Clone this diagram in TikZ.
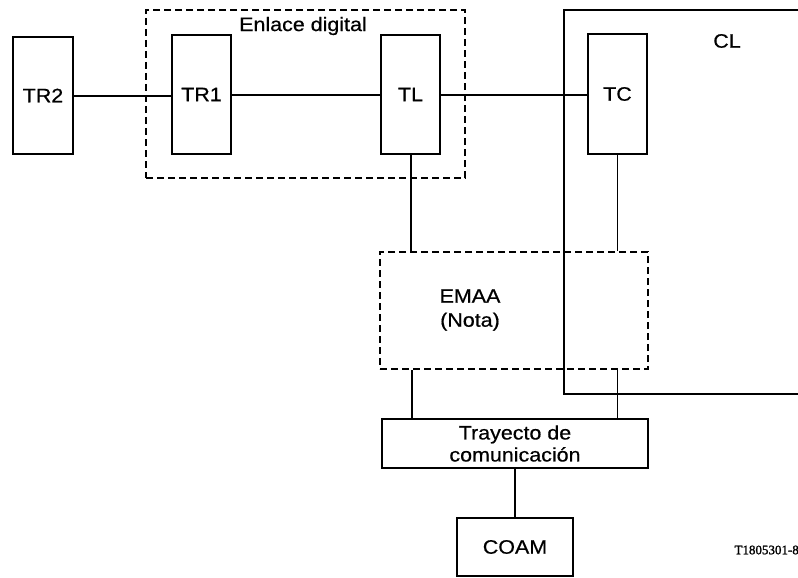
\documentclass[tikz,border=0pt]{standalone}
\usepackage{fontspec}
\setmainfont{Liberation Sans}[FakeStretch=1.1,FakeBold=0.6]
\newfontfamily\serifnote{Liberation Serif}[FakeBold=1.5]
\begin{document}
\begin{tikzpicture}[x=1pt,y=-1pt,
  blk/.style={draw, line width=2pt, inner sep=0pt, font=\fontsize{19.5}{22}\selectfont, align=center},
  dbox/.style={draw, line width=2pt, dash pattern=on 7pt off 4pt, inner sep=0pt},
  conn/.style={line width=2pt},
  thinconn/.style={line width=1.2pt},
  lbl/.style={font=\fontsize{19.5}{24}\selectfont, align=center, inner sep=0pt}]
\useasboundingbox (0,0) rectangle (798,578);
% enlace digital dashed group
\node[dbox, minimum width=319, minimum height=168] (enl) at (305.5,94) {};
\node[lbl] (enllbl) at (303,26) {Enlace digital};
% CL box (open right)
\coordinate (clt) at (798,10);
\coordinate (clb) at (798,394);
\draw[line width=1.6pt] (clt) -- (564,10) -- (564,394) -- (clb);
\node[lbl] (cllbl) at (727,41) {CL};
% blocks
\node[blk, minimum width=60, minimum height=117] (tr2) at (43,95.5) {TR2};
\node[blk, minimum width=59, minimum height=119] (tr1) at (201.5,94.5) {TR1};
\node[blk, minimum width=59, minimum height=119] (tl) at (410.5,94.5) {TL};
\node[blk, minimum width=59, minimum height=120] (tc) at (617.5,94) {TC};
% EMAA
\node[dbox, minimum width=268, minimum height=117] (emaa) at (514,310.5) {};
\node[lbl] (emaatxt) at (470,310) {EMAA\\(Nota)};
% trayecto
\node[blk, minimum width=266, minimum height=49] (tray) at (515,443.5) {Trayecto de\\comunicación};
\node[blk, minimum width=116, minimum height=58] (coam) at (515,547) {COAM};
\node[font=\serifnote\fontsize{13}{15}\selectfont, anchor=east, inner sep=0pt] (ref) at (799,550) {T1805301-8};
% connectors
\draw[conn] (tr2.east) -- (tr1.west |- tr2.east);
\draw[conn] (tr1.east) -- (tl.west |- tr1.east);
\draw[conn] (tl.east) -- (tc.west |- tl.east);
\draw[conn] (tl.south) -- (tl.south |- emaa.north);
\draw[thinconn] (tc.south) -- (tc.south |- emaa.north);
\draw[conn] ([xshift=1.5pt]tl.south |- emaa.south) -- ([xshift=1.5pt]tl.south |- tray.north);
\draw[thinconn] (tc.south |- emaa.south) -- (tc.south |- tray.north);
\draw[conn] (tray.south) -- (coam.north);
\end{tikzpicture}
\end{document}
